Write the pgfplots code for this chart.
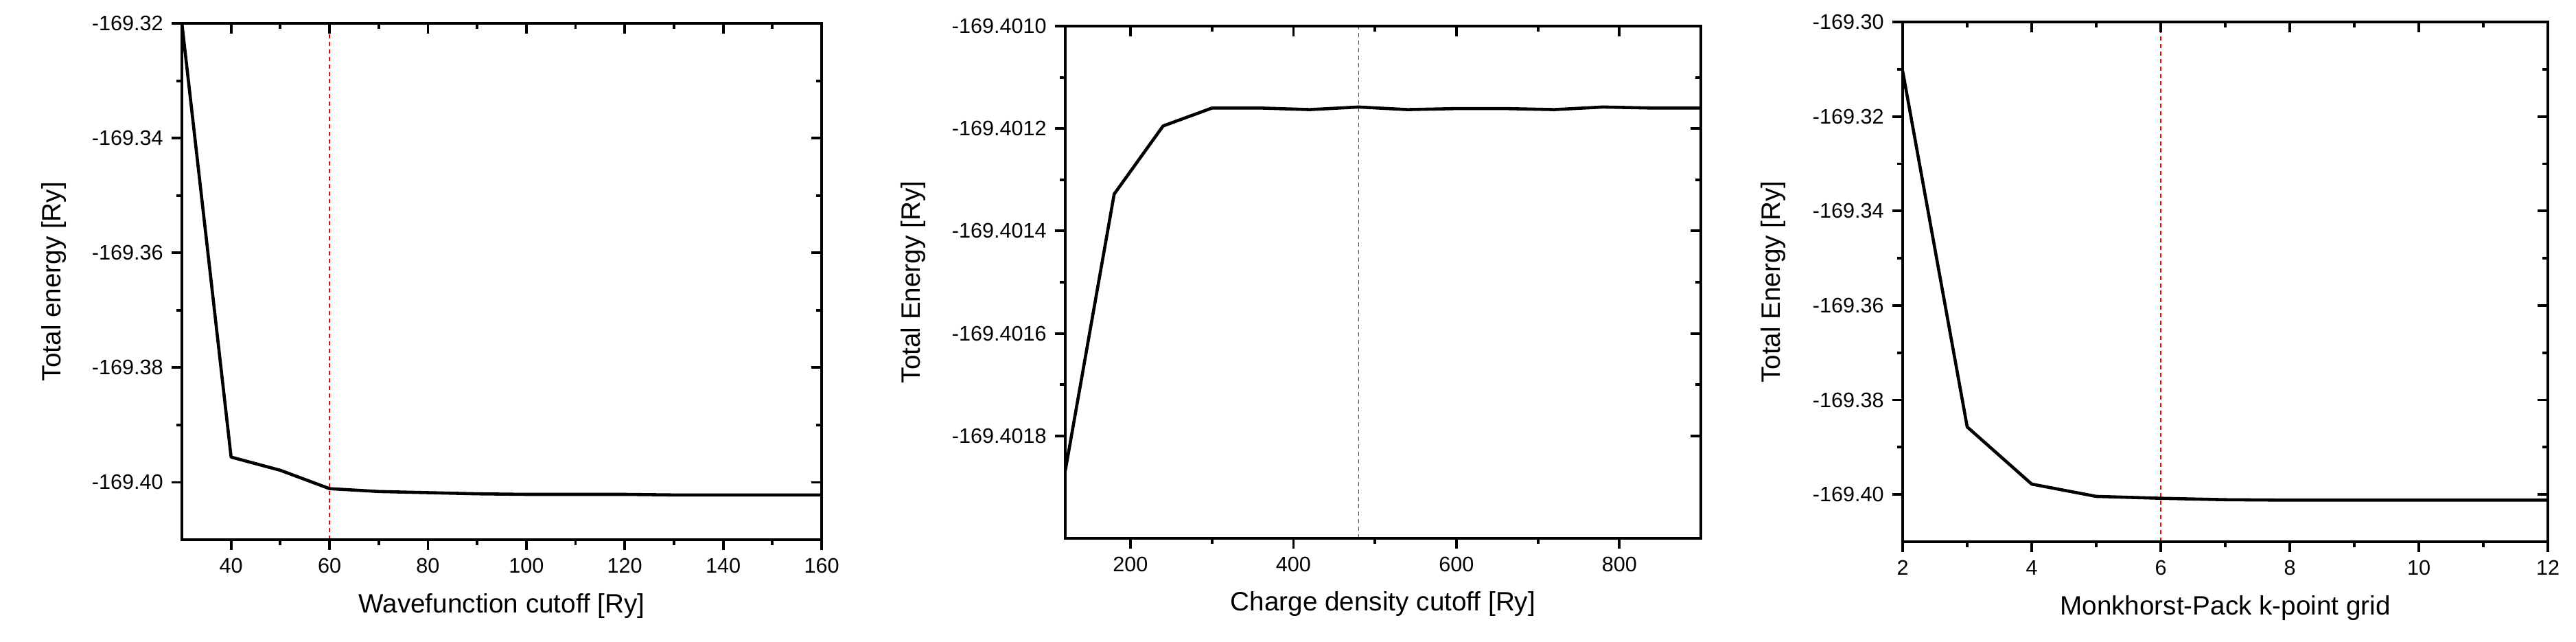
\documentclass[border=0pt]{standalone}
\usepackage{fontspec}
\setmainfont{Liberation Sans}
\usepackage{pgfplots}
\pgfplotsset{compat=1.18}

\pgfplotsset{
  conv/.style={
    scale only axis, anchor=south west,
    axis line style={line width=1.15pt},
    every tick/.style={black, line width=1.1pt},
    major tick length=0.15cm, minor tick length=0.08cm,
    minor x tick num=1, minor y tick num=1,
    tick label style={font=\fontsize{8.7}{10}\selectfont},
    label style={font=\fontsize{11}{13}\selectfont},
    /pgf/number format/assume math mode=true,
  },
  base/.style={conv, tick align=outside, xtick pos=left, ytick pos=left,
    xlabel style={at={(axis description cs:0.5,-0.128)}, anchor=center},
  },
  % top and right ticks point inwards, no labels
  mirror/.style={conv, tick align=inside, xtick pos=right, ytick pos=right,
    xticklabels={}, yticklabels={}},
  curve/.style={black, line width=1.3pt, line join=round},
  cutline/.style={red, line width=0.4pt, dash pattern=on 1.7pt off 1.4pt},
  % panel 1: wavefunction cutoff
  p1/.style={at={(2.65cm,1.48cm)}, width=9.32cm, height=7.52cm,
    xmin=30, xmax=160, ymin=-169.41, ymax=-169.32,
    xtick={40,60,...,160},
    ytick={-169.40,-169.38,-169.36,-169.34,-169.32},
    yticklabels={-169.40,-169.38,-169.36,-169.34,-169.32}},
  % panel 2: charge density cutoff
  % (energies kept as offsets from -169.4 Ry in units of 1e-4 Ry, the range is too
  %  narrow for TeX arithmetic on the full values)
  p2/.style={at={(15.52cm,1.50cm)}, width=9.26cm, height=7.46cm,
    xmin=120, xmax=900, ymin=-20, ymax=-10,
    xtick={200,400,600,800},
    ytick={-18,-16,-14,-12,-10},
    yticklabels={-169.4018,-169.4016,-169.4014,-169.4012,-169.4010}},
  % panel 3: k-point grid
  p3/.style={at={(27.72cm,1.45cm)}, width=9.40cm, height=7.57cm,
    xmin=2, xmax=12, ymin=-169.41, ymax=-169.30,
    xtick={2,4,...,12},
    ytick={-169.40,-169.38,-169.36,-169.34,-169.32,-169.30},
    yticklabels={-169.40,-169.38,-169.36,-169.34,-169.32,-169.30}},
}

\pgfplotstableread{
x   E
30  -169.3200
40  -169.3956
50  -169.3979
60  -169.4011
70  -169.4016
80  -169.4018
90  -169.4020
100 -169.4021
110 -169.4021
120 -169.4021
130 -169.4022
140 -169.4022
150 -169.4022
160 -169.4022
}\ecutwfc

% dE = (E + 169.4 Ry) * 1e4
\pgfplotstableread{
x   dE
120 -18.68
180 -13.28
240 -11.95
300 -11.60
360 -11.60
420 -11.63
480 -11.58
540 -11.63
600 -11.61
660 -11.61
720 -11.63
780 -11.58
840 -11.60
900 -11.60
}\ecutrho

\pgfplotstableread{
k   E
2   -169.3104
3   -169.3857
4   -169.3978
5   -169.4004
6   -169.4008
7   -169.4011
8   -169.4012
9   -169.4012
10  -169.4012
11  -169.4012
12  -169.4012
}\kgrid

\begin{document}
\begin{tikzpicture}
\useasboundingbox (0,0) rectangle (37.53cm,9.34cm);

\begin{axis}[base, p1,
  xlabel={Wavefunction cutoff [Ry]},
  ylabel={Total energy [Ry]},
  ylabel style={at={(axis description cs:-0.2006,0.5)}, anchor=center}]
\addplot[cutline] coordinates {(60,-169.41) (60,-169.32)};
\addplot[curve] table[x=x, y=E] {\ecutwfc};
\end{axis}
\begin{axis}[p1, mirror]
\end{axis}

\begin{axis}[base, p2,
  xlabel={Charge density cutoff [Ry]},
  ylabel={Total Energy [Ry]},
  ylabel style={at={(axis description cs:-0.2397,0.5)}, anchor=center}]
\addplot[cutline] coordinates {(480,-20) (480,-10)};
\addplot[curve] table[x=x, y=dE] {\ecutrho};
\end{axis}
\begin{axis}[p2, mirror]
\end{axis}

\begin{axis}[base, p3,
  xlabel={Monkhorst-Pack k-point grid},
  ylabel={Total Energy [Ry]},
  ylabel style={at={(axis description cs:-0.201,0.5)}, anchor=center}]
\addplot[cutline] coordinates {(6,-169.41) (6,-169.30)};
\addplot[curve] table[x=k, y=E] {\kgrid};
\end{axis}
\begin{axis}[p3, mirror]
\end{axis}
\end{tikzpicture}
\end{document}
